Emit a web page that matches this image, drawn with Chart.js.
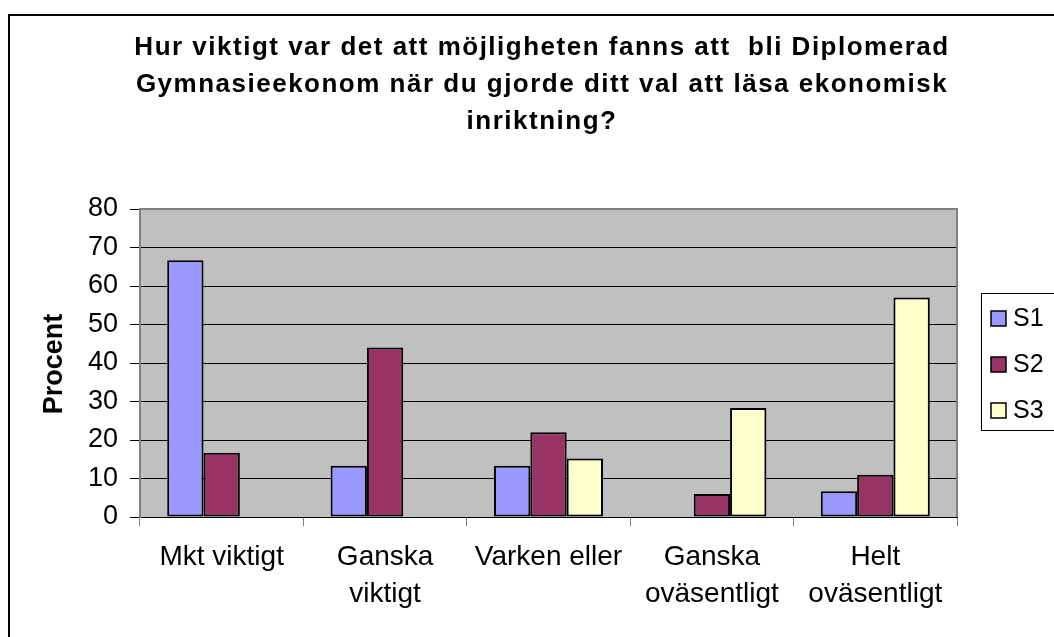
<!DOCTYPE html>
<html>
<head>
<meta charset="utf-8">
<script src="https://cdn.jsdelivr.net/npm/chart.js@4.4.0/dist/chart.umd.min.js"></script>
<style>
  body { margin: 0; background: #fff; overflow: hidden; }
  canvas { display: block; }
</style>
</head>
<body>
<canvas id="barChart" width="1054" height="637"></canvas>
<script>
// data
const categories = [
  ["Mkt viktigt"],
  ["Ganska", "viktigt"],
  ["Varken eller"],
  ["Ganska", "oväsentligt"],
  ["Helt", "oväsentligt"]
];
const s1 = [66.7, 13.3, 13.3, 0, 6.7];
const s2 = [16.7, 44, 22, 6, 11];
const s3 = [0, 0, 15.2, 28.3, 57];
const seriesNames = ["S1", "S2", "S3"];
const yTicks = [0, 10, 20, 30, 40, 50, 60, 70, 80];
const titleLines = [
  "Hur viktigt var det att möjligheten fanns att  bli Diplomerad",
  "Gymnasieekonom när du gjorde ditt val att läsa ekonomisk",
  "inriktning?"
];

const colors = ["#9999FF", "#993366", "#FFFFCC"];
const fontName = "'Liberation Sans', Arial, sans-serif";

// background of plot, outer frame, title, legend
const decorations = {
  id: 'decorations',
  beforeDraw(chart) {
    const ctx = chart.ctx;
    const a = chart.chartArea;
    ctx.save();
    ctx.fillStyle = '#fff';
    ctx.fillRect(0, 0, chart.width, chart.height);
    ctx.fillStyle = '#C0C0C0';
    ctx.fillRect(a.left, a.top, a.right - a.left, a.bottom - a.top);
    ctx.restore();
  },
  afterDraw(chart) {
    const ctx = chart.ctx;
    const a = chart.chartArea;
    ctx.save();
    // plot border top/right
    ctx.strokeStyle = '#808080';
    ctx.lineWidth = 2;
    ctx.beginPath();
    ctx.moveTo(a.left, a.top);
    ctx.lineTo(a.right, a.top);
    ctx.lineTo(a.right, a.bottom);
    ctx.stroke();

    // outer frame
    ctx.strokeStyle = '#000';
    ctx.lineWidth = 2;
    ctx.strokeRect(9, 15, 2000, 2000);

    // title
    ctx.fillStyle = '#000';
    ctx.font = "bold 26px " + fontName;
    ctx.letterSpacing = '1.5px';
    ctx.textAlign = 'center';
    ctx.textBaseline = 'middle';
    titleLines.forEach((t, i) => ctx.fillText(t, 542, 48 + i * 37));
    ctx.letterSpacing = '0px';

    // y title
    ctx.save();
    ctx.translate(55, 364);
    ctx.rotate(-Math.PI / 2);
    ctx.font = "bold 27px " + fontName;
    ctx.fillText("Procent", 0, 0);
    ctx.restore();

    // legend
    ctx.strokeStyle = '#000';
    ctx.lineWidth = 1;
    ctx.strokeRect(981.5, 293.5, 200, 137);
    ctx.font = "25px " + fontName;
    ctx.textAlign = 'left';
    seriesNames.forEach((name, i) => {
      const y = 318 + i * 46;
      ctx.fillStyle = colors[i];
      ctx.fillRect(991, y - 7, 15, 15);
      ctx.lineWidth = 1.5;
      ctx.strokeRect(991, y - 7, 15, 15);
      ctx.fillStyle = '#000';
      ctx.fillText(name, 1013, y + 1);
    });
    ctx.restore();
  }
};

const ctx = document.getElementById('barChart').getContext('2d');

new Chart(ctx, {
  type: 'bar',
  data: {
    labels: categories,
    datasets: seriesNames.map((name, i) => ({
      label: name,
      data: [s1, s2, s3][i],
      backgroundColor: colors[i],
      borderColor: '#000',
      borderWidth: 2,
      borderSkipped: false,
      categoryPercentage: 0.667,
      barPercentage: 1
    }))
  },
  options: {
    responsive: false,
    devicePixelRatio: 1,
    animation: false,
    layout: {
      padding: { left: 0, top: 209, right: 97, bottom: 0 }
    },
    plugins: {
      legend: { display: false },
      title: { display: false },
      tooltip: { enabled: false }
    },
    scales: {
      x: {
        afterFit(scale) { scale.height = 120; },
        grid: {
          offset: true,
          drawOnChartArea: false,
          drawTicks: true,
          tickLength: 9,
          tickColor: '#808080'
        },
        border: { color: '#000', width: 1 },
        ticks: {
          color: '#000',
          padding: 13,
          maxRotation: 0,
          autoSkip: false,
          font: { family: fontName, size: 28, lineHeight: 1.32 }
        }
      },
      y: {
        min: 0,
        max: 80,
        afterFit(scale) { scale.width = 140; },
        afterBuildTicks(scale) { scale.ticks = yTicks.map(v => ({ value: v })); },
        grid: {
          color: c => (c.tick.value === 0 || c.tick.value === 80) ? 'rgba(0,0,0,0)' : '#000',
          lineWidth: 1,
          tickLength: 10,
          tickColor: '#000'
        },
        border: { color: '#808080', width: 2 },
        ticks: {
          color: '#000',
          padding: 12,
          font: { family: fontName, size: 27 }
        }
      }
    }
  },
  plugins: [decorations]
});
</script>
</body>
</html>
